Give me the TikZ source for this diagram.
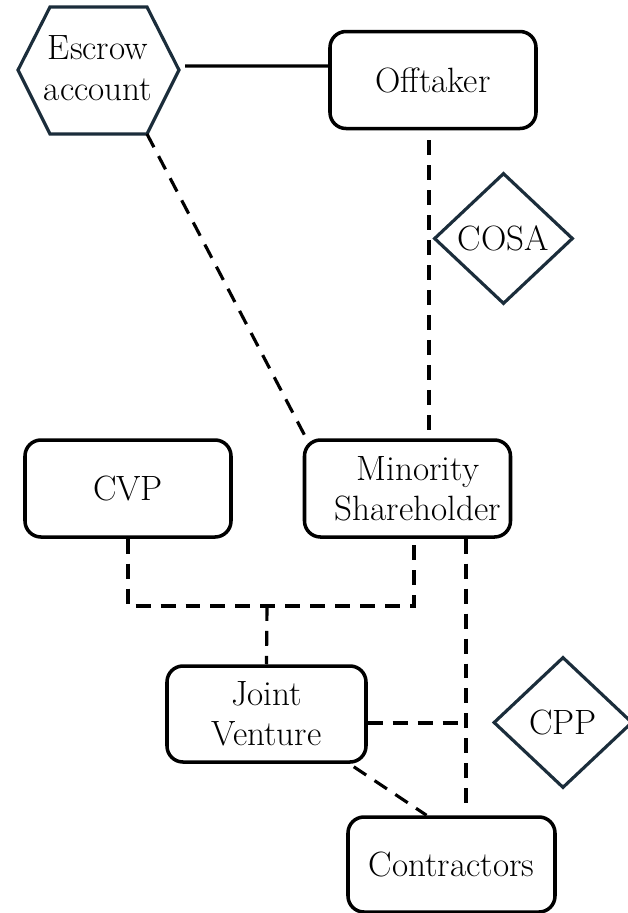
\documentclass[tikz,border=0pt]{standalone}
\usepackage{tikz}
\usetikzlibrary{shapes.geometric}
\usetikzlibrary{calc}
\definecolor{navy}{HTML}{1B2D3B}
\tikzset{every picture/.style={line width=1.8pt},
party/.style={draw,rounded corners=0.32cm,minimum width=4.12cm,minimum height=1.94cm,align=center,line width=2pt},
deal/.style={draw=navy,diamond,aspect=1.06,minimum width=2.78cm,minimum height=2.62cm,inner sep=0pt},
link/.style={dash pattern=on 8.5pt off 5.7pt}}

\begin{document}
\begin{tikzpicture}[font=\fontsize{20}{23}\selectfont]
\useasboundingbox (0,0) rectangle (12.56,-18.26);
% escrow hexagon
\draw[navy] (0.36,-1.40) -- (1.00,-0.14) -- (2.94,-0.14) -- (3.58,-1.40) coordinate (hexR)
  -- (2.94,-2.68) coordinate (hexBR) -- (1.00,-2.68) -- cycle;
\node (esc) at (1.96,-1.36) [align=center] {Escrow\\account};
\node (off) at (8.66,-1.60) [party] {Offtaker};
\node (cosa) at (10.07,-4.77) [deal] {COSA};
\node (cvp) at (2.56,-9.77) [party] {CVP};
\node (min) at (8.15,-9.77) [party] {\hspace*{0.42cm}Minority\\\hspace*{0.42cm}Shareholder};
\node (jv) at (5.33,-14.28) [party,minimum width=3.98cm,minimum height=1.92cm] {Joint\\Venture};
\node (cpp) at (11.26,-14.45) [deal] {CPP};
\node (con) at (9.03,-17.29) [party,minimum width=4.14cm,minimum height=1.90cm] {Contractors};
\coordinate (mid) at (5.34,-12.12);
\coordinate (vtop) at ($(min.south)+(1.17,0)$);
% links
\draw ([shift={(0.12,0.08)}]hexR) -- ([yshift=0.28cm]off.west);
\draw[link] (hexBR) -- ([xshift=0.1cm,yshift=-0.06cm]min.north west);
\draw[link] ($(off.south)+(-0.08,-0.2)$) -- ($(off.south |- min.north)+(-0.08,0.12)$);
\draw[link] (cvp.south) |- (mid) -| ($(min.south)+(0.13,0)$);
\draw[link] (mid) -- (jv.north);
\draw[link,shorten >=0.2cm] (vtop) -- (vtop |- con.north);
\draw[link] ([yshift=-0.18cm]jv.east) -- ([yshift=-0.18cm]jv.east -| vtop);
\draw[link] ([xshift=-0.28cm,yshift=-0.06cm]jv.south east) -- ([xshift=-0.5cm]con.north);
\end{tikzpicture}
\end{document}
